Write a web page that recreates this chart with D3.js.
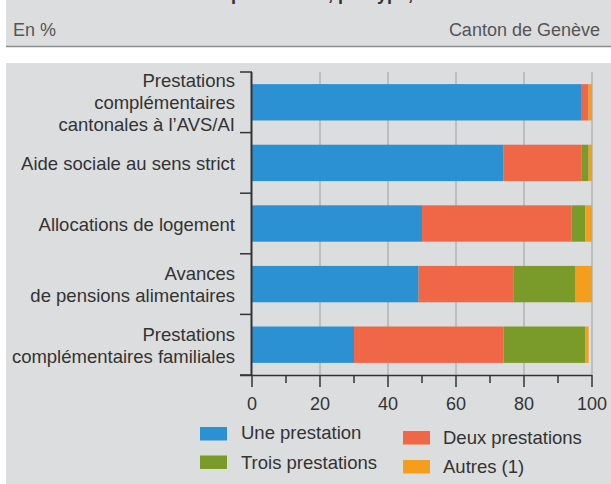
<!DOCTYPE html>
<html>
<head>
<meta charset="utf-8">
<script src="https://cdn.jsdelivr.net/npm/d3@7"></script>
<style>
  html, body { margin: 0; padding: 0; background: #fff; }
  svg { display: block; font-family: "Liberation Sans", Arial, sans-serif; }
</style>
</head>
<body>
<svg id="chart" width="611" height="484"></svg>
<script>
// categories (one per bar), each label split in lines
var categories = [
  ["Prestations", "complémentaires", "cantonales à l\u2019AVS/AI"],
  ["Aide sociale au sens strict"],
  ["Allocations de logement"],
  ["Avances", "de pensions alimentaires"],
  ["Prestations", "complémentaires familiales"]
];

// series values, in %
var unePrestation    = [97, 74, 50, 49, 30];
var deuxPrestations  = [2, 23, 44, 28, 44];
var troisPrestations = [0, 2, 4, 18, 24];
var autres           = [1, 1, 2, 5, 1];

var seriesNames  = ["Une prestation", "Deux prestations", "Trois prestations", "Autres (1)"];
var seriesColors = ["#2b91d2", "#f06748", "#7a9a29", "#f59d1c"];

var xTicks = [0, 20, 40, 60, 80, 100];
var xMinorTicks = [10, 30, 50, 70, 90];

var svg = d3.select("#chart"),
    width = +svg.attr("width"),
    height = +svg.attr("height");

var textColor = "#333";

// header band
svg.append("rect").attr("x", 6).attr("y", 0).attr("width", width - 6).attr("height", 46)
    .attr("fill", "#dcdddf");
svg.append("line").attr("x1", 6).attr("x2", width).attr("y1", 46.5).attr("y2", 46.5)
    .attr("stroke", "#8c8c8c").attr("stroke-width", 1.5);

// title, cut off at the top as in the source
svg.append("text").attr("x", 231).attr("y", -0.5)
    .attr("font-size", 18).attr("font-weight", "bold").attr("fill", textColor)
    .text("prestations, par type,");

svg.append("text").attr("x", 13).attr("y", 36)
    .attr("font-size", 18).attr("fill", "#555").text("En %");
svg.append("text").attr("x", 600).attr("y", 36).attr("text-anchor", "end")
    .attr("font-size", 18).attr("fill", "#555").text("Canton de Genève");

// chart panel
svg.append("rect").attr("x", 6).attr("y", 63).attr("width", width - 6).attr("height", height - 63)
    .attr("fill", "#dcdddf");

var x = d3.scaleLinear().domain([0, 100]).range([252, 592]);
var y = d3.scaleBand().domain(d3.range(categories.length)).range([72, 375])
    .paddingInner(0.4).paddingOuter(0.2);

var plotTop = y.range()[0], plotBottom = y.range()[1];

// grid
svg.append("g").selectAll("line")
    .data(xTicks.filter(function(d) { return d > 0; }))
    .enter().append("line")
      .attr("x1", function(d) { return x(d); })
      .attr("x2", function(d) { return x(d); })
      .attr("y1", plotTop).attr("y2", plotBottom)
      .attr("stroke", "#b3b3b5").attr("stroke-width", 1.5);

// stacked bars
var rows = categories.map(function(c, i) {
  return {une: unePrestation[i], deux: deuxPrestations[i], trois: troisPrestations[i], autres: autres[i]};
});
var keys = ["une", "deux", "trois", "autres"];
var stacked = d3.stack().keys(keys)(rows);

svg.append("g").selectAll("g")
    .data(stacked)
    .enter().append("g")
      .attr("fill", function(d, i) { return seriesColors[i]; })
    .selectAll("rect")
    .data(function(d) { return d; })
    .enter().append("rect")
      .attr("x", function(d) { return x(d[0]); })
      .attr("width", function(d) { return x(d[1]) - x(d[0]); })
      .attr("y", function(d, i) { return y(i); })
      .attr("height", y.bandwidth());

// y axis: category separators
var bounds = d3.range(categories.length + 1).map(function(i) {
  return plotTop + (plotBottom - plotTop) * i / categories.length;
});
svg.append("g").selectAll("line")
    .data(bounds)
    .enter().append("line")
      .attr("x1", 240).attr("x2", 252)
      .attr("y1", function(d) { return d; }).attr("y2", function(d) { return d; })
      .attr("stroke", "#333").attr("stroke-width", 1.5);

svg.append("line").attr("x1", 251.5).attr("x2", 251.5).attr("y1", plotTop).attr("y2", plotBottom)
    .attr("stroke", "#333").attr("stroke-width", 2);

// category labels
var lineH = 22;
var labels = svg.append("g").selectAll("text")
    .data(categories)
    .enter().append("text")
      .attr("text-anchor", "end")
      .attr("font-size", 18.5)
      .attr("fill", textColor);
labels.each(function(lines, i) {
  var cy = y(i) + y.bandwidth() / 2;
  var y0 = cy - (lines.length - 1) * lineH / 2 + 7;
  d3.select(this).selectAll("tspan")
      .data(lines)
      .enter().append("tspan")
        .attr("x", 235)
        .attr("y", function(d, j) { return y0 + j * lineH; })
        .text(function(d) { return d; });
});

// x axis
var xAxis = svg.append("g").attr("transform", "translate(0," + plotBottom + ")");
xAxis.append("line").attr("x1", 240).attr("x2", x(100)).attr("y1", 0.5).attr("y2", 0.5)
    .attr("stroke", "#333").attr("stroke-width", 1.5);
xAxis.selectAll(".major").data(xTicks).enter().append("line")
    .attr("x1", function(d) { return x(d); }).attr("x2", function(d) { return x(d); })
    .attr("y1", 0).attr("y2", 12).attr("stroke", "#333").attr("stroke-width", 1.5);
xAxis.selectAll(".minor").data(xMinorTicks).enter().append("line")
    .attr("x1", function(d) { return x(d); }).attr("x2", function(d) { return x(d); })
    .attr("y1", 0).attr("y2", 8).attr("stroke", "#333").attr("stroke-width", 1.5);
xAxis.selectAll("text").data(xTicks).enter().append("text")
    .attr("x", function(d) { return x(d); }).attr("y", 35)
    .attr("text-anchor", "middle").attr("font-size", 18).attr("fill", textColor)
    .text(function(d) { return d; });

// legend
var legendPos = [
  {sx: 200, sy: 427, tx: 241, ty: 439},
  {sx: 403, sy: 431, tx: 443, ty: 444},
  {sx: 200, sy: 455.5, tx: 241, ty: 469},
  {sx: 403, sy: 460, tx: 443, ty: 473}
];
var legend = svg.append("g").selectAll("g")
    .data(seriesNames)
    .enter().append("g");
legend.append("rect")
    .attr("x", function(d, i) { return legendPos[i].sx; })
    .attr("y", function(d, i) { return legendPos[i].sy; })
    .attr("width", 27).attr("height", 13.5)
    .attr("fill", function(d, i) { return seriesColors[i]; });
legend.append("text")
    .attr("x", function(d, i) { return legendPos[i].tx; })
    .attr("y", function(d, i) { return legendPos[i].ty; })
    .attr("font-size", 18.5).attr("fill", textColor)
    .text(function(d) { return d; });
</script>
</body>
</html>
